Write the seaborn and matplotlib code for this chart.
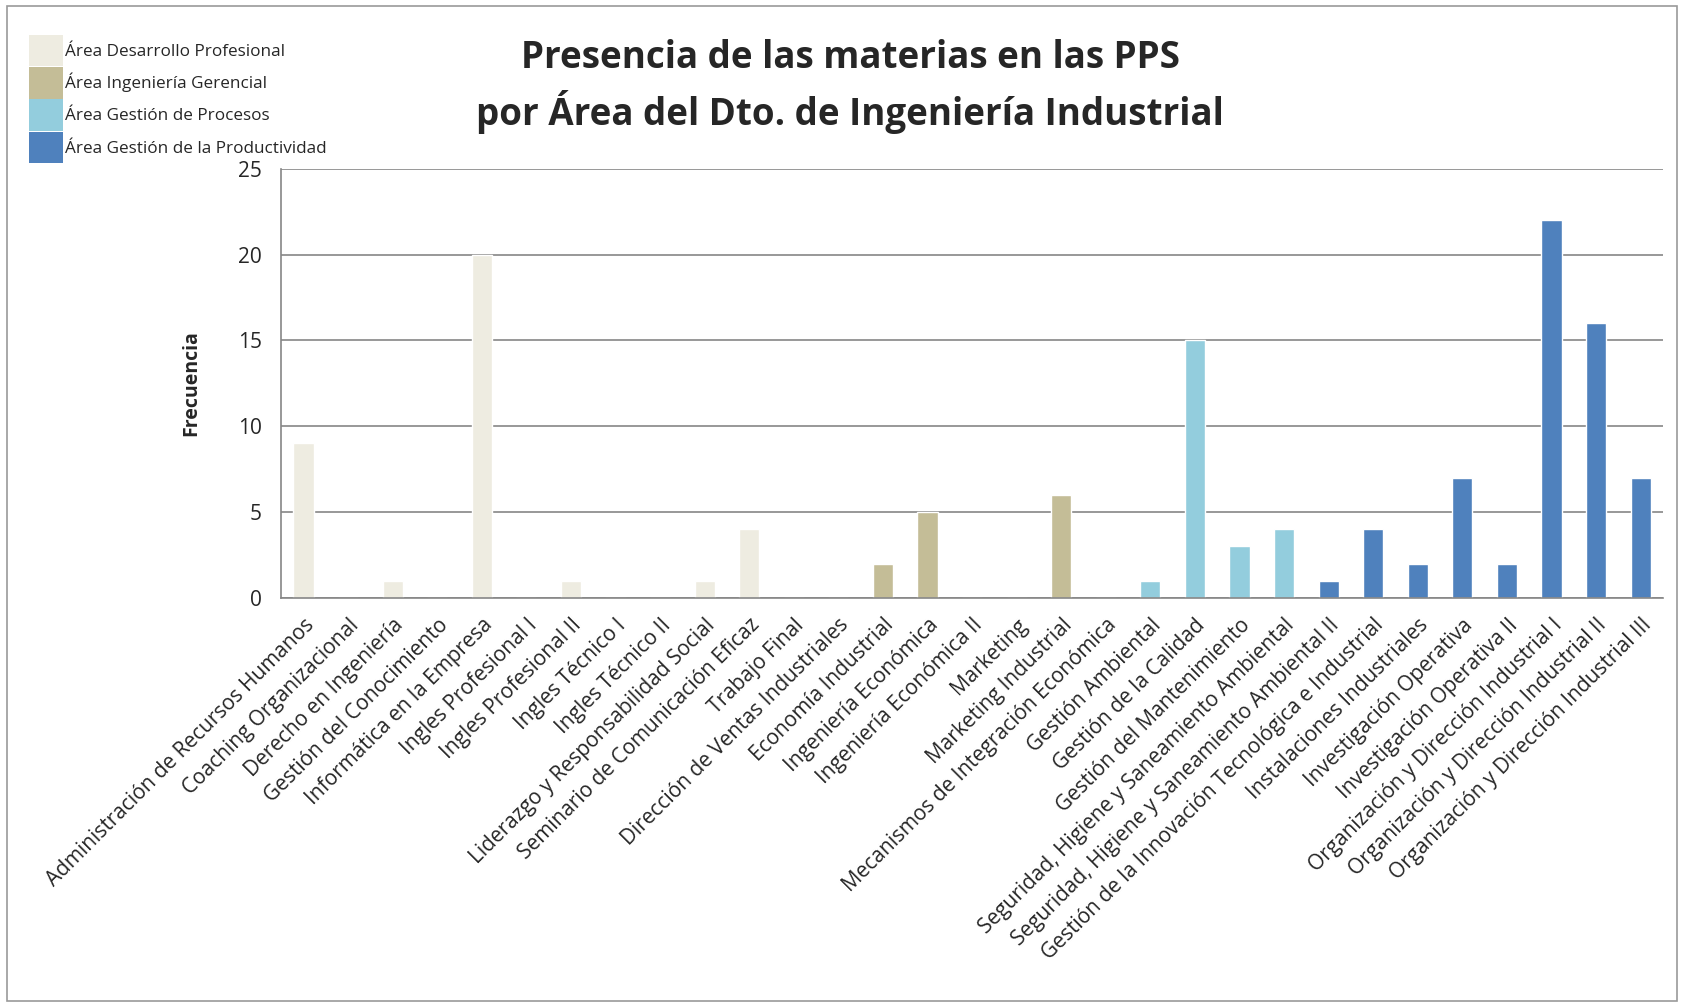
import matplotlib
matplotlib.use("Agg")
import matplotlib.pyplot as plt
import seaborn as sns
import pandas as pd
from matplotlib.patches import Patch, Rectangle

# datos
materias = [
    "Administración de Recursos Humanos", "Coaching Organizacional", "Derecho en Ingeniería",
    "Gestión del Conocimiento", "Informática en la Empresa", "Ingles Profesional I",
    "Ingles Profesional II", "Ingles Técnico I", "Ingles Técnico II",
    "Liderazgo y Responsabilidad Social", "Seminario de Comunicación Eficaz", "Trabajo Final",
    "Dirección de Ventas Industriales", "Economía Industrial", "Ingeniería Económica",
    "Ingeniería Económica II", "Marketing", "Marketing Industrial",
    "Mecanismos de Integración Económica", "Gestión Ambiental", "Gestión de la Calidad",
    "Gestión del Mantenimiento", "Seguridad, Higiene y Saneamiento Ambiental",
    "Seguridad, Higiene y Saneamiento Ambiental II",
    "Gestión de la Innovación Tecnológica e Industrial", "Instalaciones Industriales",
    "Investigación Operativa", "Investigación Operativa II",
    "Organización y Dirección Industrial I", "Organización y Dirección Industrial II",
    "Organización y Dirección Industrial III",
]
frecuencia = [9, 0, 1, 0, 20, 0, 1, 0, 0, 1, 4, 0,
              0, 2, 5, 0, 0, 6, 0,
              1, 15, 3, 4,
              1, 4, 2, 7, 2, 22, 16, 7]
areas_nombres = ["Área Desarrollo Profesional", "Área Ingeniería Gerencial",
                 "Área Gestión de Procesos", "Área Gestión de la Productividad"]
areas_cantidad = [12, 7, 4, 8]
colores = ["#EEECE1", "#C4BD97", "#93CDDD", "#4F81BD"]

area = []
for nombre, n in zip(areas_nombres, areas_cantidad):
    area += [nombre] * n

df = pd.DataFrame({"Materia": materias, "Frecuencia": frecuencia, "Area": area})

sns.set_style("white")
plt.rcParams['font.family'] = ['Open Sans', 'DejaVu Sans']

fig = plt.figure(figsize=(16.84, 10.05), dpi=100)
ax = fig.add_axes([0.167, 0.405, 0.8205, 0.427])

sns.barplot(data=df, x="Materia", y="Frecuencia", hue="Area", hue_order=areas_nombres,
            palette=colores, dodge=False, width=0.45, legend=False, ax=ax, saturation=1)

ax.set_ylim(0, 25)
ax.set_yticks([0, 5, 10, 15, 20, 25])
ax.set_xlim(-0.5, len(materias) - 0.5)
ax.yaxis.grid(True, color="#868686", linewidth=1.2)
ax.set_axisbelow(True)
for s in ["top", "right"]:
    ax.spines[s].set_visible(False)
for s in ["left", "bottom"]:
    ax.spines[s].set_color("#868686")
    ax.spines[s].set_linewidth(1.2)
ax.tick_params(axis="y", labelsize=15, pad=14, length=0)
ax.tick_params(axis="x", length=0, pad=12)
ax.set_xticks(range(len(materias)))
ax.set_xticklabels(materias, rotation=45, ha="right", rotation_mode="anchor", fontsize=15)
ax.set_xlabel("")
ax.set_ylabel("Frecuencia", fontsize=14, fontweight="bold", labelpad=26)

fig.text(0.505, 0.914, "Presencia de las materias en las PPS\npor Área del Dto. de Ingeniería Industrial",
         ha="center", va="center", fontsize=26.5, fontweight="bold", linespacing=1.35)

handles = [Patch(facecolor=c, edgecolor="none") for c in colores]
fig.legend(handles, areas_nombres, loc="upper left", bbox_to_anchor=(0.013, 0.972),
           frameon=False, fontsize=12.3, handlelength=2.0, handleheight=2.45,
           handletextpad=0.15, labelspacing=0.05, borderaxespad=0)

fig.patches.append(Rectangle((0.004, 0.004), 0.992, 0.99, transform=fig.transFigure,
                             fill=False, edgecolor="#9a9a9a", linewidth=1.2))

fig.savefig("out.png", dpi=100)
